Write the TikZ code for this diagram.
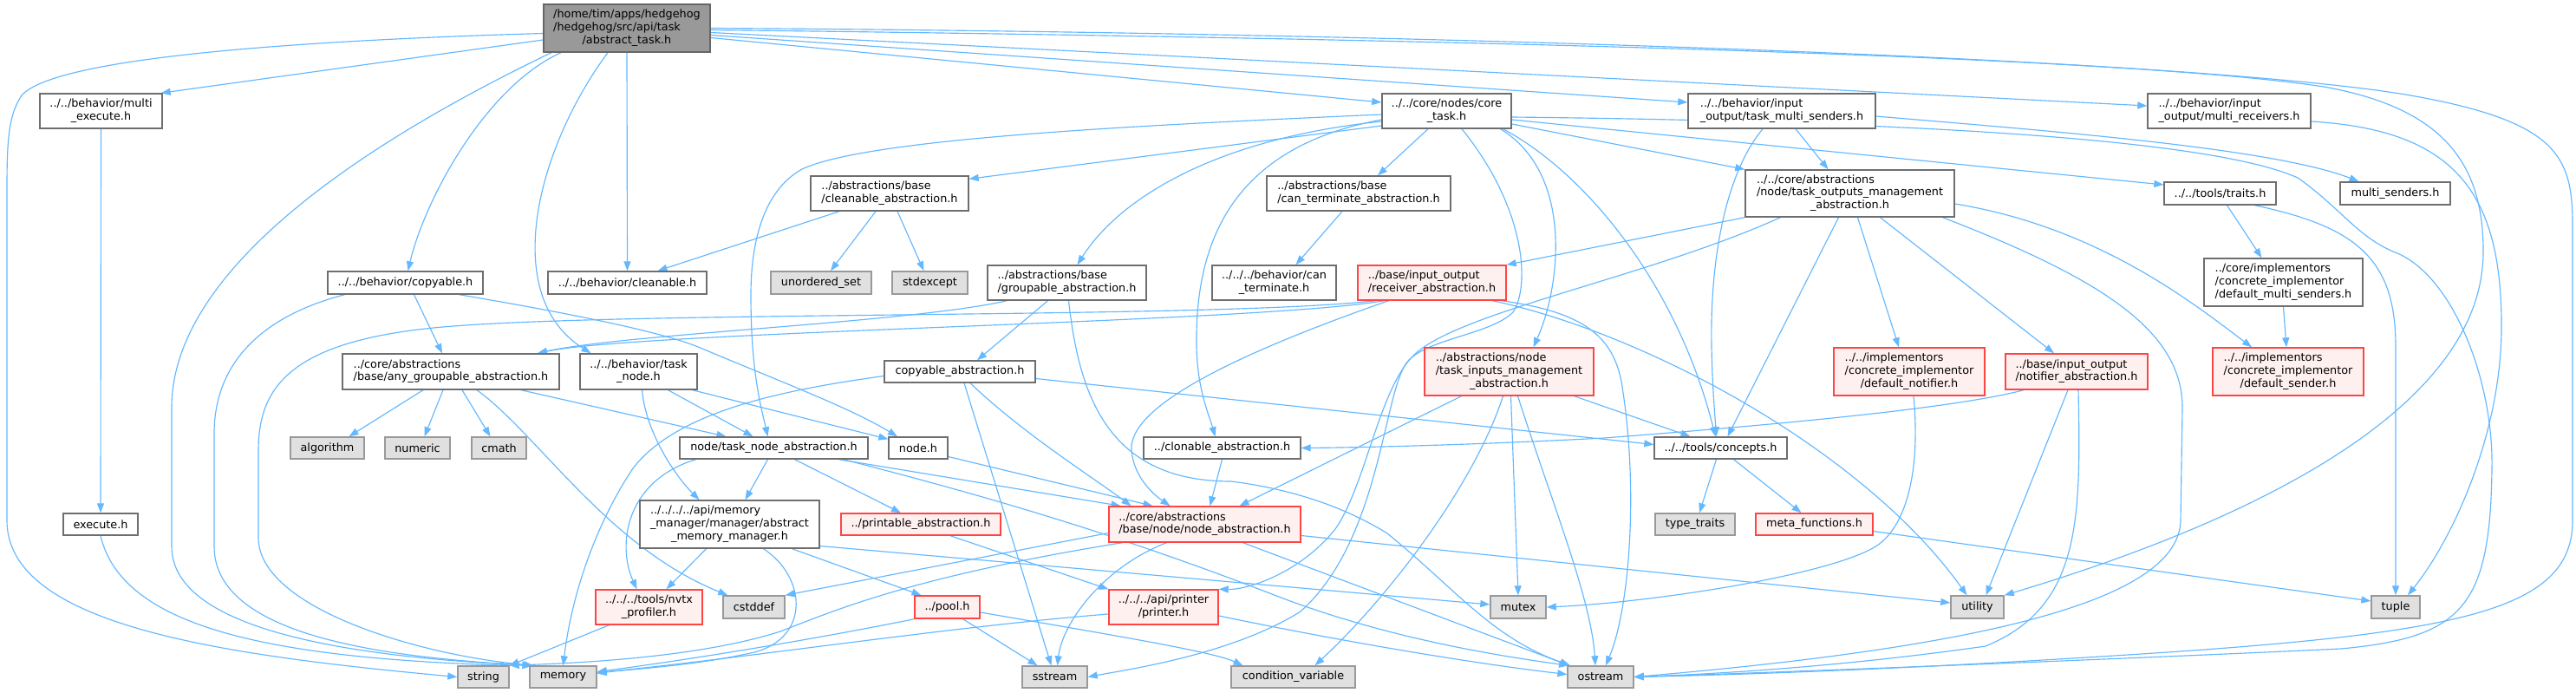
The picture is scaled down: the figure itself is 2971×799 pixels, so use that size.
\documentclass[tikz,border=0pt]{standalone}
\usepackage{fontspec}
\setmainfont{DejaVu Sans}
\usetikzlibrary{arrows.meta}
\definecolor{edgec}{HTML}{63B8FF}
\definecolor{rootf}{HTML}{999999}
\definecolor{rootd}{HTML}{666666}
\definecolor{nrmd}{HTML}{6E6E6E}
\definecolor{redd}{HTML}{FF4444}
\definecolor{redf}{HTML}{FFF0F0}
\definecolor{extf}{HTML}{E0E0E0}
\definecolor{extd}{HTML}{999999}
\newcommand{\LabTwo}[2]{\begin{tabular}{@{}c@{}}\multicolumn{1}{@{}l@{}}{#1}\\#2\end{tabular}}
\newcommand{\LabThree}[3]{\begin{tabular}{@{}c@{}}\multicolumn{1}{@{}l@{}}{#1}\\\multicolumn{1}{@{}l@{}}{#2}\\#3\end{tabular}}
\pgfdeclarelayer{bg}
\pgfsetlayers{bg,main}
\begin{document}
\begin{tikzpicture}[x=1pt,y=-1pt,
  base/.style={rectangle, inner sep=0pt, line width=1.4pt, font=\fontsize{12.8}{14.7}\selectfont, text=black},
  nrm/.style={base, draw=nrmd, fill=white},
  rt/.style={base, draw=rootd, fill=rootf},
  rd/.style={base, draw=redd, fill=redf},
  ext/.style={base, draw=extd, fill=extf},
  sz/.style 2 args={minimum width=#1pt, minimum height=#2pt},
  edg/.style={draw=edgec, line width=1.15pt, -{Triangle[length=11pt,width=8pt]}},
]
\useasboundingbox (0,0) rectangle (2971,799);
% ---------------- nodes
\node[rt,sz={192}{55}] (R) at (723,32.5) {\LabThree{/home/tim/apps/hedgehog}{/hedgehog/src/api/task}{/abstract\_task.h}};
\node[nrm,sz={141}{40}] (ME) at (116.5,128) {\LabTwo{../../behavior/multi}{\_execute.h}};
\node[nrm,sz={179}{26}] (CP) at (467.5,326) {../../behavior/copyable.h};
\node[nrm,sz={183}{26}] (CL) at (723.5,326) {../../behavior/cleanable.h};
\node[nrm,sz={182}{40}] (CA) at (1026,223) {\LabTwo{../abstractions/base}{/cleanable\_abstraction.h}};
\node[ext,sz={116}{26}] (US) at (947,326) {unordered\_set};
\node[ext,sz={87}{26}] (SE) at (1072.5,326) {stdexcept};
\node[nrm,sz={183}{40}] (GA) at (1230.5,326) {\LabTwo{../abstractions/base}{/groupable\_abstraction.h}};
\node[nrm,sz={149}{40}] (CT) at (1668.5,128) {\LabTwo{../../core/nodes/core}{\_task.h}};
\node[nrm,sz={212}{40}] (CTA) at (1567,223) {\LabTwo{../abstractions/base}{/can\_terminate\_abstraction.h}};
\node[nrm,sz={143}{40}] (BCT) at (1469.5,326) {\LabTwo{../../../behavior/can}{\_terminate.h}};
\node[rd,sz={171}{40}] (RA) at (1651.5,326) {\LabTwo{../base/input\_output}{/receiver\_abstraction.h}};
\node[nrm,sz={216}{40}] (TMS) at (2055,128) {\LabTwo{../../behavior/input}{\_output/task\_multi\_senders.h}};
\node[nrm,sz={241}{54}] (TOM) at (2133.5,223) {\LabThree{../../core/abstractions}{/node/task\_outputs\_management}{\_abstraction.h}};
\node[nrm,sz={188}{40}] (MR) at (2571,128) {\LabTwo{../../behavior/input}{\_output/multi\_receivers.h}};
\node[nrm,sz={129}{26}] (TR) at (2560.5,223) {../../tools/traits.h};
\node[nrm,sz={127}{26}] (MS) at (2762.5,223) {multi\_senders.h};
\node[nrm,sz={183}{55}] (DMS) at (2633.5,325.5) {\LabThree{../core/implementors}{/concrete\_implementor}{/default\_multi\_senders.h}};
\node[nrm,sz={250}{41}] (AG) at (520,428.5) {\LabTwo{../core/abstractions}{/base/any\_groupable\_abstraction.h}};
\node[ext,sz={85}{25}] (ALG) at (377.5,516.5) {algorithm};
\node[ext,sz={75}{25}] (NUM) at (481.5,516.5) {numeric};
\node[ext,sz={63}{25}] (CM) at (575.5,516.5) {cmath};
\node[nrm,sz={86}{25}] (EX) at (116,604.5) {execute.h};
\node[ext,sz={59}{25}] (STR) at (557.5,780.5) {string};
\node[ext,sz={77}{25}] (MEM) at (649.5,780.5) {memory};
\node[nrm,sz={135}{41}] (TN) at (736.5,428.5) {\LabTwo{../../behavior/task}{\_node.h}};
\node[nrm,sz={174}{25}] (CPA) at (1107,428.5) {copyable\_abstraction.h};
\node[nrm,sz={217}{25}] (TNA) at (892.5,516.5) {node/task\_node\_abstraction.h};
\node[nrm,sz={68}{25}] (ND) at (1059,516.5) {node.h};
\node[nrm,sz={207}{55}] (MM) at (841.5,604.5) {\LabThree{../../../../api/memory}{\_manager/manager/abstract}{\_memory\_manager.h}};
\node[rd,sz={184}{25}] (PA) at (1062,604.5) {../printable\_abstraction.h};
\node[rd,sz={123}{40}] (NV) at (748.5,700) {\LabTwo{../../../tools/nvtx}{\_profiler.h}};
\node[ext,sz={71}{26}] (CD) at (869.5,700) {cstddef};
\node[rd,sz={75}{26}] (PO) at (1092.5,700) {../pool.h};
\node[ext,sz={75}{25}] (SS) at (1216.5,780.5) {sstream};
\node[rd,sz={195}{55}] (TIM) at (1740.5,428.5) {\LabThree{../abstractions/node}{/task\_inputs\_management}{\_abstraction.h}};
\node[nrm,sz={181}{25}] (CLA) at (1409.5,516.5) {../clonable\_abstraction.h};
\node[rd,sz={221}{41}] (NA) at (1389.5,604.5) {\LabTwo{../core/abstractions}{/base/node/node\_abstraction.h}};
\node[rd,sz={126}{40}] (PR) at (1342,700) {\LabTwo{../../../api/printer}{/printer.h}};
\node[ext,sz={64}{26}] (MX) at (1751,700) {mutex};
\node[ext,sz={143}{25}] (CV) at (1491.5,780.5) {condition\_variable};
\node[ext,sz={76}{25}] (OS) at (1846,780.5) {ostream};
\node[nrm,sz={153}{25}] (CO) at (1984.5,516.5) {../../tools/concepts.h};
\node[ext,sz={92}{25}] (TT) at (1955,604.5) {type\_traits};
\node[rd,sz={135}{25}] (MF) at (2092.5,604.5) {meta\_functions.h};
\node[rd,sz={174}{55}] (DN) at (2202,428.5) {\LabThree{../../implementors}{/concrete\_implementor}{/default\_notifier.h}};
\node[rd,sz={164}{41}] (NO) at (2395,428.5) {\LabTwo{../base/input\_output}{/notifier\_abstraction.h}};
\node[ext,sz={61}{26}] (UT) at (2280.5,700) {utility};
\node[rd,sz={174}{55}] (DS) at (2639,428.5) {\LabThree{../../implementors}{/concrete\_implementor}{/default\_sender.h}};
\node[ext,sz={56}{26}] (TU) at (2763,700) {tuple};
% ---------------- edges
\begin{pgfonlayer}{bg}
\fill[white] (0,0) rectangle (2971,799);
% root
\draw[edg] ([yshift=-6pt]R.west) .. controls (300,48) and (60,70) .. (25,110) .. controls (8,135) and (8,170) .. (8,230) -- (8,600) .. controls (8,720) and (250,755) .. (STR.west);
\draw[edg] ([yshift=-13.5pt]R.west) -- ([xshift=-2pt]ME.north east);
\draw[edg] ([xshift=-87pt]R.south) .. controls (450,150) and (198,300) .. (198,470) -- (198,630) .. controls (198,730) and (420,758) .. ([xshift=3pt]MEM.north west);
\draw[edg] ([xshift=-76pt]R.south) .. controls (560,100) and (490,230) .. ([xshift=3pt]CP.north);
\draw[edg] ([xshift=-22pt]R.south) .. controls (620,170) and (575,340) .. ([xshift=-55pt]TN.north);
\draw[edg] (R.south) -- (CL.north);
\draw[edg] ([yshift=-11pt]R.east) -- ([yshift=10pt]CT.west);
\draw[edg] ([yshift=-8pt]R.east) -- ([yshift=10pt]TMS.west);
\draw[edg] ([yshift=-5pt]R.east) -- ([yshift=6pt]MR.west);
\draw[edg] ([yshift=-2pt]R.east) .. controls (1700,45) and (2450,65) .. (2680,100) .. controls (2820,125) and (2864,190) .. (2864,290) .. controls (2864,470) and (2600,600) .. (UT.north east);
\draw[edg] (R.east) .. controls (1700,38) and (2550,70) .. (2780,110) .. controls (2950,140) and (2967,180) .. (2967,260) -- (2967,600) .. controls (2967,700) and (2850,728) .. (2500,752) .. controls (2200,772) and (2000,778) .. (OS.east);
% multi execute
\draw[edg] (ME.south) -- (EX.north);
\draw[edg] (EX.south) .. controls (140,720) and (300,758) .. (STR.north east);
% copyable.h
\draw[edg] ([xshift=-70pt]CP.south) .. controls (300,365) and (247,420) .. (247,500) -- (247,630) .. controls (247,735) and (450,758) .. ([xshift=4pt]MEM.north west);
\draw[edg] ([xshift=10pt]CP.south) -- ([xshift=-10pt]AG.north);
\draw[edg] ([xshift=62pt]CP.south) .. controls (620,355) and (760,380) .. (810,402) .. controls (900,440) and (980,470) .. ([xshift=-24pt]ND.north);
% cleanable abstraction
\draw[edg] ([xshift=-58pt]CA.south) -- ([xshift=35pt]CL.north);
\draw[edg] ([xshift=-16pt]CA.south) -- ([xshift=11pt]US.north);
\draw[edg] ([xshift=9pt]CA.south) -- ([xshift=-7pt]SE.north);
% core task
\draw[edg] ([yshift=-17pt]CT.west) -- ([yshift=-4pt]CA.north east);
\draw[edg] ([xshift=-21.5pt]CT.south) -- ([xshift=22pt]CTA.north);
\draw[edg] ([xshift=-19pt]CTA.south) -- ([xshift=25pt]BCT.north);
\draw[edg] ([yshift=-12pt]CT.west) .. controls (1400,160) and (1290,230) .. ([xshift=12pt]GA.north);
\draw[edg] ([yshift=-4pt]CT.west) .. controls (1300,145) and (1000,160) .. (925,195) .. controls (880,220) and (866,280) .. (866,340) .. controls (866,430) and (878,470) .. ([xshift=-7pt]TNA.north);
\draw[edg] ([yshift=-10pt]CT.west) .. controls (1420,170) and (1378,280) .. (1380,400) .. controls (1381,450) and (1395,480) .. ([xshift=-8pt]CLA.north);
\draw[edg] ([yshift=-15pt]CT.east) -- (TOM.north west);
\draw[edg] ([yshift=-10pt]CT.east) -- ([yshift=10pt]TR.west);
\draw[edg] ([yshift=-7pt]CT.east) .. controls (2200,140) and (2550,160) .. (2650,205) .. controls (2700,240) and (2720,275) .. (2765,292) .. controls (2830,320) and (2876,440) .. (2874,540) .. controls (2872,700) and (2840,735) .. (2700,748) .. controls (2400,762) and (2000,777) .. (OS.east);
\draw[edg] ([xshift=65pt]CT.south) .. controls (1830,200) and (1935,330) .. ([xshift=-6pt]CO.north);
\draw[edg] ([xshift=62pt]CT.south) .. controls (1815,200) and (1800,330) .. ([xshift=28pt]TIM.north);
\draw[edg] ([xshift=17.5pt]CT.south) .. controls (1760,240) and (1765,330) .. (1745,360) .. controls (1720,385) and (1650,390) .. (1625,415) .. controls (1595,445) and (1595,620) .. (1500,705) .. controls (1420,755) and (1300,772) .. (SS.east);
% task multi senders
\draw[edg] ([yshift=-6pt]TMS.east) .. controls (2350,150) and (2620,170) .. ([xshift=-42pt]MS.north);
\draw[edg] ([xshift=16pt]TMS.south) -- ([xshift=-25pt]TOM.north);
\draw[edg] ([xshift=-22pt]TMS.south) .. controls (1990,200) and (1972,300) .. (1974,400) .. controls (1975,450) and (1978,480) .. ([xshift=-5pt]CO.north);
% multi receivers
\draw[edg] ([yshift=-12pt]MR.east) .. controls (2830,150) and (2886,220) .. (2885,380) .. controls (2884,500) and (2830,620) .. ([xshift=14pt]TU.north);
% traits
\draw[edg] ([xshift=8pt]TR.south) -- ([xshift=-25pt]DMS.north);
\draw[edg] ([xshift=40pt]TR.south) .. controls (2720,262) and (2763,300) .. (2763,400) -- (TU.north);
\draw[edg] (DMS.south) -- ([xshift=-2pt]DS.north);
% task outputs management
\draw[edg] (TOM.south west) -- (RA.north east);
\draw[edg] ([xshift=-80pt]TOM.south) .. controls (1900,320) and (1680,360) .. (1630,410) .. controls (1590,450) and (1575,560) .. (1540,610) .. controls (1500,660) and (1440,680) .. (PR.north east);
\draw[edg] ([xshift=-13pt]TOM.south) -- ([xshift=8pt]CO.north);
\draw[edg] ([xshift=9pt]TOM.south) -- ([xshift=-12pt]DN.north);
\draw[edg] ([xshift=35pt]TOM.south) -- ([xshift=-26pt]NO.north);
\draw[edg] ([yshift=-12pt]TOM.east) .. controls (2420,262) and (2530,350) .. ([xshift=-42pt]DS.north);
\draw[edg] ([xshift=107pt]TOM.south) .. controls (2420,320) and (2517,380) .. (2517,470) -- (2515,600) .. controls (2513,690) and (2300,745) .. (OS.east);
% receiver abstraction
\draw[edg] ([xshift=-55pt]RA.south) .. controls (1450,372) and (740,382) .. ([xshift=100pt]AG.north);
\draw[edg] ([xshift=-65pt]RA.south) .. controls (1400,368) and (700,358) .. (500,378) .. controls (330,395) and (298,450) .. (298,520) -- (298,620) .. controls (298,700) and (480,755) .. ([xshift=5pt]MEM.north west);
\draw[edg] ([xshift=-50pt]RA.south) .. controls (1420,410) and (1300,470) .. (1305,520) .. controls (1308,550) and (1330,570) .. ([xshift=-40pt]NA.north);
\draw[edg] ([xshift=70pt]RA.south) .. controls (1900,385) and (2150,520) .. ([xshift=-12pt]UT.north);
\draw[edg] ([xshift=80pt]RA.south) .. controls (1830,360) and (1860,390) .. (1870,440) .. controls (1890,560) and (1880,700) .. ([xshift=6pt]OS.north);
% groupable
\draw[edg] ([xshift=-69pt]GA.south) .. controls (1050,372) and (720,385) .. ([xshift=100pt]AG.north);
\draw[edg] ([xshift=-22pt]GA.south) -- ([xshift=20pt]CPA.north);
\draw[edg] ([xshift=2pt]GA.south) .. controls (1245,460) and (1280,555) .. (1420,555) .. controls (1500,565) and (1560,590) .. (1600,615) .. controls (1680,680) and (1720,735) .. ([xshift=-35pt]OS.north);
% copyable abstraction
\draw[edg] ([yshift=-5pt]CPA.west) .. controls (900,450) and (780,475) .. (730,540) .. controls (690,600) and (660,680) .. (MEM.north);
\draw[edg] ([xshift=5pt]CPA.south) -- ([xshift=-4pt]SS.north);
\draw[edg] ([xshift=12pt]CPA.south) .. controls (1180,500) and (1260,550) .. ([xshift=-85pt]NA.north);
\draw[edg] ([yshift=-8pt]CPA.east) -- ([yshift=4pt]CO.west);
% any groupable
\draw[edg] ([xshift=-32pt]AG.south) -- ([xshift=25pt]ALG.north);
\draw[edg] ([xshift=-9pt]AG.south) -- ([xshift=8pt]NUM.north);
\draw[edg] ([xshift=13pt]AG.south) -- ([xshift=-10pt]CM.north);
\draw[edg] ([xshift=30pt]AG.south) .. controls (620,500) and (700,630) .. ([xshift=6pt]CD.north west);
\draw[edg] ([xshift=81pt]AG.south) -- ([xshift=-55pt]TNA.north);
% task node
\draw[edg] ([xshift=4pt]TN.south) .. controls (745,500) and (780,550) .. ([xshift=-35pt]MM.north);
\draw[edg] ([xshift=34pt]TN.south) -- ([xshift=-24pt]TNA.north);
\draw[edg] ([xshift=62pt]TN.south) -- ([yshift=-3pt]ND.north west);
\draw[edg] ([yshift=-10pt]ND.east) -- ([xshift=-60pt]NA.north);
% task node abstraction
\draw[edg] ([xshift=-90pt]TNA.south) .. controls (720,555) and (712,630) .. ([xshift=-14pt]NV.north);
\draw[edg] ([xshift=-7pt]TNA.south) -- ([xshift=18pt]MM.north);
\draw[edg] ([xshift=24pt]TNA.south) -- ([xshift=-23pt]PA.north);
\draw[edg] ([xshift=75pt]TNA.south) -- ([xshift=-97pt]NA.north);
\draw[edg] ([xshift=80pt]TNA.south) .. controls (1150,575) and (1300,620) .. (1480,690) .. controls (1600,735) and (1720,755) .. ([xshift=-37pt]OS.north);
% memory manager
\draw[edg] ([xshift=-27pt]MM.south) -- ([xshift=20pt]NV.north);
\draw[edg] ([xshift=39pt]MM.south) .. controls (930,665) and (935,735) .. (870,752) .. controls (800,768) and (720,772) .. ([yshift=4pt]MEM.east);
\draw[edg] ([xshift=72pt]MM.south) -- ([xshift=-30pt]PO.north);
\draw[edg] ([yshift=-25pt]MM.east) -- ([yshift=3pt]MX.west);
% printable, nvtx, pool
\draw[edg] ([xshift=34pt]PA.south) -- (PR.north west);
\draw[edg] ([xshift=-46pt]NV.south) -- (STR.north east);
\draw[edg] (PO.south west) .. controls (950,735) and (800,760) .. ([yshift=6pt]MEM.east);
\draw[edg] ([xshift=18pt]PO.south) -- ([xshift=-20pt]SS.north);
\draw[edg] ([yshift=-6pt]PO.east) .. controls (1300,735) and (1400,752) .. ([xshift=-58pt]CV.north);
% node abstraction
\draw[edg] ([yshift=-10pt]NA.west) -- (CD.north east);
\draw[edg] ([xshift=-95pt]NA.south) .. controls (1050,665) and (960,705) .. (900,728) .. controls (800,760) and (650,765) .. (STR.north east);
\draw[edg] ([xshift=-44pt]NA.south) .. controls (1270,655) and (1225,720) .. ([xshift=3pt]SS.north);
\draw[edg] ([xshift=44pt]NA.south) -- ([xshift=-36pt]OS.north);
\draw[edg] ([yshift=-13pt]NA.east) -- ([yshift=5pt]UT.west);
% printer
\draw[edg] ([yshift=-8pt]PR.west) .. controls (1100,722) and (850,760) .. ([yshift=5pt]MEM.east);
\draw[edg] ([yshift=-10pt]PR.east) .. controls (1550,740) and (1700,765) .. ([yshift=3pt]OS.west);
% clonable
\draw[edg] (CLA.south) -- ([xshift=6pt]NA.north);
% task inputs management
\draw[edg] ([xshift=-55pt]TIM.south) -- ([xshift=40pt]NA.north);
\draw[edg] ([xshift=75pt]TIM.south) -- ([xshift=-35pt]CO.north);
\draw[edg] ([xshift=2pt]TIM.south) -- (MX.north);
\draw[edg] ([xshift=-7pt]TIM.south) .. controls (1700,560) and (1600,690) .. ([xshift=25pt]CV.north);
\draw[edg] ([xshift=10pt]TIM.south) .. controls (1790,580) and (1835,690) .. ([xshift=-6pt]OS.north);
% concepts, meta
\draw[edg] ([xshift=-5pt]CO.south) -- ([xshift=5pt]TT.north);
\draw[edg] ([xshift=15pt]CO.south) -- ([xshift=-15pt]MF.north);
\draw[edg] ([yshift=-8pt]MF.east) -- ([yshift=7pt]TU.west);
% default notifier, notifier
\draw[edg] ([xshift=5pt]DN.south) .. controls (2215,540) and (2200,610) .. (2160,632) .. controls (2100,665) and (1900,695) .. (MX.east);
\draw[edg] ([xshift=-61pt]NO.south) .. controls (2250,472) and (2020,492) .. (1850,505) .. controls (1700,513) and (1570,516) .. (CLA.east);
\draw[edg] ([xshift=-10pt]NO.south) -- ([xshift=10pt]UT.north);
\draw[edg] ([xshift=2pt]NO.south) .. controls (2400,600) and (2400,700) .. (2290,745) .. controls (2100,772) and (1950,778) .. (OS.east);
\end{pgfonlayer}
\end{tikzpicture}
\end{document}
